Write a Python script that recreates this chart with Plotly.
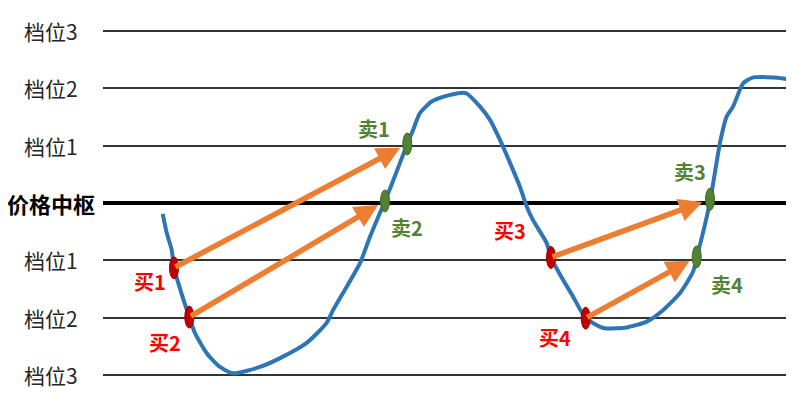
import plotly.graph_objects as go

# ---- data ----
level_vals = [3, 2, 1, 0, -1, -2, -3]
level_labels = ["档位3", "档位2", "档位1", "价格中枢", "档位1", "档位2", "档位3"]

curve_x = [162.7, 166.7, 171.7, 174, 181, 189.3, 195, 206.7, 220, 233, 260, 283, 306.7, 326.7,
           333, 346.7, 360, 370, 380, 385, 400, 407.3, 413, 420, 431.7, 443, 460, 466.7, 480,
           490, 500, 510, 520, 526.7, 533, 546.7, 551, 563, 573, 585.7, 600, 606.7, 626.7,
           646.7, 663, 680, 693, 696.7, 703, 710, 720, 726.7, 733, 743.3, 753.3, 773, 786.7, 794]
curve_y = [-0.19, -0.52, -0.82, -1.13, -1.55, -1.99, -2.27, -2.62, -2.86, -2.97, -2.86, -2.68,
           -2.44, -2.09, -1.87, -1.46, -1.05, -0.59, -0.17, 0.03, 0.70, 1.03, 1.27, 1.57, 1.77,
           1.85, 1.92, 1.91, 1.68, 1.45, 1.10, 0.70, 0.28, -0.06, -0.30, -0.70, -0.95, -1.34,
           -1.63, -2.01, -2.16, -2.19, -2.17, -2.07, -1.87, -1.57, -1.20, -0.95, -0.52, 0.02,
           1.05, 1.51, 1.68, 2.09, 2.19, 2.19, 2.16, 2.08]

buy_names = ["买1", "买2", "买3", "买4"]
buy_x = [174, 189.3, 551, 585.7]
buy_y = [-1.13, -1.99, -0.95, -2.01]

sell_names = ["卖1", "卖2", "卖3", "卖4"]
sell_x = [407.3, 385, 710, 696.7]
sell_y = [1.03, 0.035, 0.065, -0.94]

# label offsets in pixels (style)
buy_shift = [(-24, -14), (-24, -25), (-41, 27), (-31, -19)]
sell_shift = [(-33, 15), (22, -27), (-20, 28), (30, -28)]

BLUE = "#2E75B6"
ORANGE = "#ED7D31"
RED = "#C00000"
GREEN = "#548235"
FONT = "Noto Sans CJK SC"

fig = go.Figure()
fig.add_trace(go.Scatter(x=curve_x, y=curve_y, mode="lines",
                         line=dict(color=BLUE, width=4, shape="spline", smoothing=0.6),
                         hoverinfo="skip", showlegend=False))

shapes = []
annotations = []

# arrows buy -> sell
for bx, by, sx, sy in zip(buy_x, buy_y, sell_x, sell_y):
    annotations.append(dict(x=sx, y=sy, ax=bx, ay=by, xref="x", yref="y", axref="x", ayref="y",
                            showarrow=True, arrowhead=2, arrowsize=0.85, arrowwidth=5.5,
                            arrowcolor=ORANGE, standoff=8, text=""))

# ellipse markers
for xs, ys, col, line_col in [(buy_x, buy_y, RED, "#A00000"), (sell_x, sell_y, GREEN, "#3F6A25")]:
    for x, y in zip(xs, ys):
        shapes.append(dict(type="circle", xref="x", yref="y", xsizemode="pixel", ysizemode="pixel",
                           xanchor=x, yanchor=y, x0=-4.5, x1=4.5, y0=-11, y1=11,
                           fillcolor=col, line=dict(color=line_col, width=1), layer="above"))

# point labels
for names, xs, ys, shifts, col in [(buy_names, buy_x, buy_y, buy_shift, "#FF0000"),
                                   (sell_names, sell_x, sell_y, sell_shift, GREEN)]:
    for n, x, y, (dx, dy) in zip(names, xs, ys, shifts):
        annotations.append(dict(x=x, y=y, xref="x", yref="y", text="<b>%s</b>" % n,
                                showarrow=False, xshift=dx, yshift=dy,
                                font=dict(family=FONT, size=20, color=col)))

# left level labels
for v, lab in zip(level_vals, level_labels):
    txt = "<b>%s</b>" % lab if v == 0 else lab
    annotations.append(dict(x=-0.0753, y=v, xref="paper", yref="y", text=txt, showarrow=False,
                            xanchor="center", yanchor="middle",
                            font=dict(family=FONT, size=21 if v != 0 else 22,
                                      color="#000000" if v == 0 else "#262626")))

fig.update_layout(
    width=786, height=412,
    margin=dict(l=95, r=0, t=0, b=0),
    paper_bgcolor="white", plot_bgcolor="white",
    xaxis=dict(range=[103, 794], visible=False, fixedrange=True),
    yaxis=dict(range=[-3.785, 3.401], tickvals=level_vals, showticklabels=False,
               showgrid=True, gridcolor="#333333", gridwidth=1.5,
               zeroline=True, zerolinecolor="#000000", zerolinewidth=4, fixedrange=True),
    shapes=shapes, annotations=annotations, showlegend=False,
)

fig.write_html("out.html")
